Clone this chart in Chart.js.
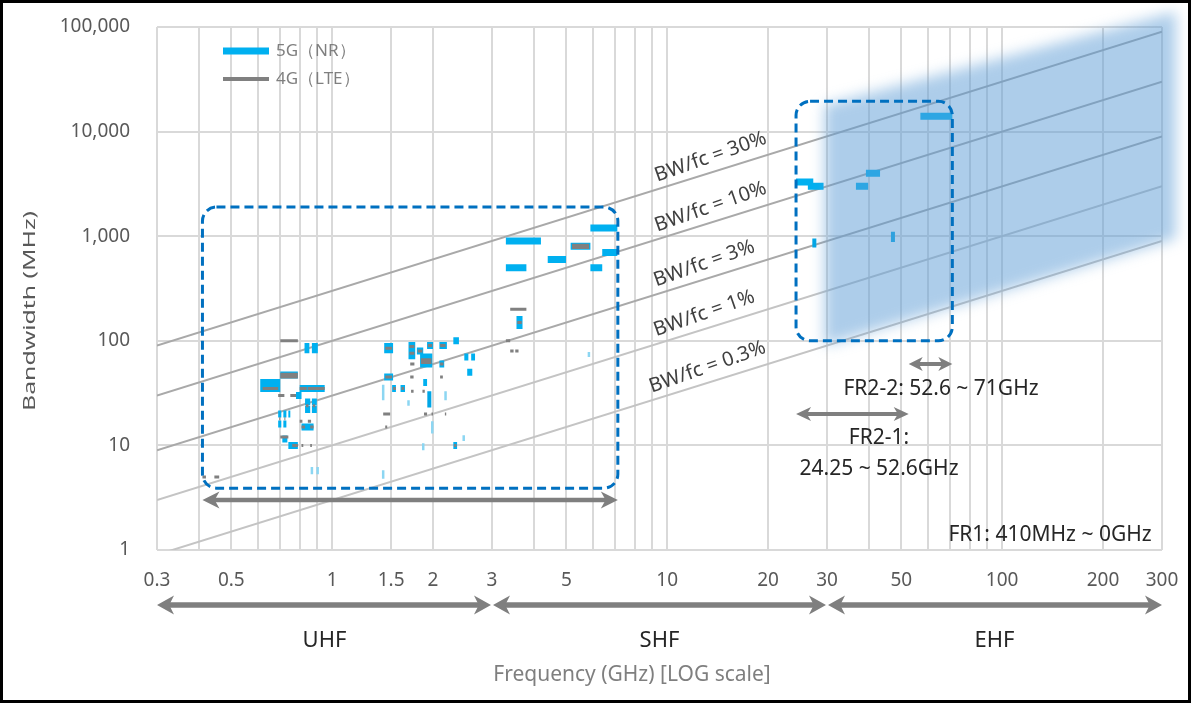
<!DOCTYPE html>
<html><head><meta charset="utf-8">
<script src="https://cdn.jsdelivr.net/npm/chart.js@4/dist/chart.umd.min.js"></script>
<style>html,body{margin:0;padding:0;background:#fff}canvas{display:block}</style>
</head><body>
<canvas id="c" width="1191" height="703"></canvas>
<script>
// ---- axis ticks ----
const xGridValues = [0.3,0.4,0.5,0.6,0.7,0.8,0.9,1,1.5,2,3,4,5,6,7,8,9,10,20,30,40,50,60,70,80,90,100,200,300];
const xTickLabels = ['0.3','0.5','1','1.5','2','3','5','10','20','30','50','100','200','300'];
const yTickValues = [1,10,100,1000,10000,100000];
const yTickLabels = ['1','10','100','1,000','10,000','100,000'];
const xTitle = 'Frequency (GHz) [LOG scale]';
const yTitle = 'Bandwidth (MHz)';

// ---- BW/fc reference lines ----
const bwRatios = [0.3, 0.1, 0.03, 0.01, 0.003];
const bwRatioLabels = ['BW/fc = 30%','BW/fc = 10%','BW/fc = 3%','BW/fc = 1%','BW/fc = 0.3%'];
const bwLabelFreq = [13.9, 13.9, 13.3, 13.3, 13.6];

// ---- 5G (NR) bands: [fLow GHz, fHigh GHz, bandwidth MHz] ----
const nrBands = [
 [0.827,0.855,88],[0.827,0.855,82],[0.87,0.906,88],[0.87,0.906,82],
 [0.70,0.79,47],
 [0.61,0.70,40],[0.61,0.70,35],
 [0.80,0.95,35],
 [0.78,0.81,30],
 [0.83,0.86,26],[0.83,0.86,22],[0.87,0.90,26],[0.87,0.90,22],
 [0.74,0.75,20],
 [0.69,0.705,20],[0.69,0.705,16],[0.715,0.73,20],[0.715,0.73,16],
 [0.81,0.88,15],
 [0.71,0.735,11.5],
 [0.74,0.79,10],
 [1.43,1.52,88],[1.43,1.52,82],
 [1.69,1.77,90],[1.69,1.77,80],[1.69,1.77,72],
 [1.79,1.87,80],
 [1.92,2.0,90],
 [2.09,2.2,90],
 [2.3,2.39,100],
 [1.83,1.99,70],[1.83,1.99,60],
 [2.09,2.16,60],
 [2.48,2.55,70],[2.6,2.67,70],
 [2.53,2.62,50],
 [1.43,1.52,45],
 [1.87,1.92,40],
 [1.51,1.55,35],[1.60,1.65,35],
 [2.3,2.36,10],
 [5.9,7.1,1200],[3.3,4.2,900],[5.15,5.9,800],[6.4,7.1,700],[4.4,4.99,600],
 [3.3,3.8,500],[5.9,6.4,500],[3.55,3.7,160],[3.55,3.7,140],
 [57,71,14000],[24.25,27.3,3300],[26.3,29.3,3000],[39.2,43.2,4000],[36.6,39.8,3000]
];
// ---- 4G (LTE) bands: [fLow GHz, fHigh GHz, bandwidth MHz] ----
const lteBands = [
 [0.70,0.79,100],
 [0.70,0.79,48],[0.70,0.79,45],
 [0.62,0.69,35],
 [0.80,0.84,35],[0.845,0.95,35],
 [0.69,0.72,30],[0.75,0.78,30],
 [0.835,0.85,24],[0.875,0.89,24],
 [0.695,0.70,18],[0.72,0.725,18],
 [0.80,0.815,17],[0.846,0.865,17],
 [0.81,0.83,15],[0.86,0.88,15],
 [0.70,0.74,12],
 [0.76,0.79,10],[0.81,0.82,10],[0.86,0.87,10],
 [0.41,0.42,5],[0.445,0.46,5],
 [1.44,1.51,85],
 [1.70,1.76,88],[1.70,1.76,76],
 [1.80,1.86,80],
 [1.93,1.99,90],
 [2.10,2.18,90],
 [1.84,1.98,66],[1.84,1.98,62],
 [2.10,2.15,60],
 [1.71,1.76,60],
 [1.44,1.51,45],
 [1.71,1.75,45],[2.10,2.14,45],
 [1.52,1.55,35],[1.61,1.64,35],
 [1.72,1.75,33],[1.86,1.89,33],
 [1.42,1.49,20],[1.88,1.92,20],[1.98,2.0,20],[2.17,2.19,20],
 [1.44,1.46,15],
 [2.31,2.35,10],
 [5.2,5.85,820],[5.2,5.85,780],
 [3.4,3.8,200],
 [3.57,3.68,150],
 [3.3,3.4,100],
 [3.4,3.48,80],[3.52,3.6,80]
];
// ---- 5G narrow marks: [f GHz, bwLow, bwHigh] ----
const nrNarrow = [[1.95,23,33],[47.2,880,1100],[27.5,780,950]];
const nrThin = [[0.87,5.3,6.2],[0.905,5.3,6.2],[1.42,27,38],[1.69,24,27],[2.18,27,33],[1.99,13,17],[2.47,11,12.5],[1.87,9,10.5],[1.42,4.8,5.8],[5.84,70,78]];

// ---- annotations (data coordinates) ----
const shadeTop = [[29.5,18000],[330,140000]];
const shadeBottom = [[29.5,90],[330,950]];
const frBoxes = [[0.41,7.125,3.9,1900],[24.25,71,100,19500]];
const frArrows = [[0.41,7.125,3],[24.25,52.6,20],[52.6,71,60]];
const frTexts = ['FR2-2: 52.6 ~ 71GHz','FR2-1:','24.25 ~ 52.6GHz','FR1: 410MHz ~ 0GHz'];
const bandNames = ['UHF','SHF','EHF'];
const bandEdges = [0.3,3,30,300];
const legendLabels = ['5G（NR）','4G（LTE）'];

const xLabelValues = xTickLabels.map(Number);
const FONT = '"Noto Sans", "DejaVu Sans", sans-serif';

function segs(list){ const out=[]; list.forEach(b=>{ out.push({x:b[0],y:b[2]},{x:b[1],y:b[2]},{x:b[1],y:null}); }); return out; }
function vsegs(list){ const out=[]; list.forEach(b=>{ out.push({x:b[0],y:b[1]},{x:b[0],y:b[2]},{x:b[0],y:null}); }); return out; }

const datasets = [];
bwRatios.forEach((r,i)=>datasets.push({label:bwRatioLabels[i], data:[{x:0.3,y:r*300},{x:300,y:r*300000}],
  borderColor: i<3 ? '#a9a9a9' : '#c4c4c4', borderWidth:2, pointRadius:0, order:10}));
datasets.push({label:legendLabels[0], data:segs(nrBands), borderColor:'#00b0f0', borderWidth:7, borderCapStyle:'butt', pointRadius:0, spanGaps:false, order:5});
datasets.push({label:'5G narrow', data:vsegs(nrNarrow), borderColor:'#00a6e6', borderWidth:4, borderCapStyle:'butt', pointRadius:0, spanGaps:false, order:4});
datasets.push({label:'5G thin', data:vsegs(nrThin), borderColor:'#8cd6f2', borderWidth:2.5, borderCapStyle:'butt', pointRadius:0, spanGaps:false, order:4});
datasets.push({label:legendLabels[1], data:segs(lteBands), borderColor:'#808080', borderWidth:3, borderCapStyle:'butt', pointRadius:0, spanGaps:false, order:2});

function arrow(ctx,x1,x2,y,lw,hl,hw,color){
  ctx.save(); ctx.strokeStyle=color; ctx.fillStyle=color; ctx.lineWidth=lw;
  ctx.beginPath(); ctx.moveTo(x1+hl*0.6,y); ctx.lineTo(x2-hl*0.6,y); ctx.stroke();
  ctx.beginPath(); ctx.moveTo(x1,y); ctx.lineTo(x1+hl,y-hw/2); ctx.lineTo(x1+hl*0.72,y); ctx.lineTo(x1+hl,y+hw/2); ctx.closePath(); ctx.fill();
  ctx.beginPath(); ctx.moveTo(x2,y); ctx.lineTo(x2-hl,y-hw/2); ctx.lineTo(x2-hl*0.72,y); ctx.lineTo(x2-hl,y+hw/2); ctx.closePath(); ctx.fill();
  ctx.restore();
}

const overlay = {
  id:'overlay',
  beforeDraw(chart){ const c=chart.ctx; c.save(); c.fillStyle='#fff'; c.fillRect(0,0,chart.width,chart.height); c.restore(); },
  afterDatasetsDraw(chart){
    const ctx=chart.ctx, xs=chart.scales.x, ys=chart.scales.y, ca=chart.chartArea;
    const X=v=>xs.getPixelForValue(v), Y=v=>ys.getPixelForValue(v);
    // shaded FR2 region
    ctx.save();
    ctx.filter='blur(7px)';
    ctx.fillStyle='rgba(91,155,213,0.5)';
    ctx.beginPath();
    ctx.moveTo(X(shadeTop[0][0]),Y(shadeTop[0][1]));
    ctx.lineTo(X(shadeTop[1][0]),Y(shadeTop[1][1]));
    ctx.lineTo(X(shadeBottom[1][0]),Y(shadeBottom[1][1]));
    ctx.lineTo(X(shadeBottom[0][0]),Y(shadeBottom[0][1]));
    ctx.closePath(); ctx.fill();
    ctx.restore();
    // dashed boxes
    ctx.save(); ctx.strokeStyle='#0070c0'; ctx.lineWidth=3; ctx.setLineDash([9,5]);
    frBoxes.forEach(b=>{ const x1=X(b[0]),x2=X(b[1]),y1=Y(b[3]),y2=Y(b[2]);
      ctx.beginPath(); ctx.roundRect(x1,y1,x2-x1,y2-y1,14); ctx.stroke(); });
    ctx.restore();
    // FR arrows
    arrow(ctx,X(frArrows[0][0]),X(frArrows[0][1]),Y(frArrows[0][2]),4.5,17,17,'#7f7f7f');
    arrow(ctx,X(frArrows[1][0]),X(frArrows[1][1]),Y(frArrows[1][2]),4,15,14,'#7f7f7f');
    arrow(ctx,X(frArrows[2][0]),X(frArrows[2][1]),Y(frArrows[2][2]),4,14,14,'#7f7f7f');
    // band arrows below the axis
    const by = ca.bottom+55;
    for(let i=0;i<3;i++){ arrow(ctx,X(bandEdges[i])+(i?1:0),X(bandEdges[i+1])-(i<2?1:0),by,5.5,17,19,'#7f7f7f'); }
    ctx.save(); ctx.fillStyle='#262626'; ctx.font='22px '+FONT; ctx.textAlign='center'; ctx.textBaseline='middle';
    for(let i=0;i<3;i++){ ctx.fillText(bandNames[i], X(Math.sqrt(bandEdges[i]*bandEdges[i+1])), ca.bottom+91); }
    ctx.restore();
    // axis titles
    ctx.save(); ctx.fillStyle='#7f7f7f'; ctx.font='21px '+FONT; ctx.textAlign='center'; ctx.textBaseline='middle';
    ctx.fillText(xTitle, 632, 675);
    ctx.restore();
    ctx.save(); ctx.fillStyle='#595959'; ctx.font='17px '+FONT; ctx.textAlign='center'; ctx.textBaseline='middle';
    ctx.translate(30, 311); ctx.rotate(-Math.PI/2);
    const tw = ctx.measureText(yTitle).width; ctx.scale(200/tw, 1);
    ctx.fillText(yTitle, 0, 0);
    ctx.restore();
    // BW/fc labels
    ctx.save(); ctx.fillStyle='#404040'; ctx.font='20px '+FONT; ctx.textAlign='center'; ctx.textBaseline='middle';
    bwRatios.forEach((r,i)=>{
      const f=bwLabelFreq[i]; const px=X(f), py=Y(r*1000*f);
      const a=Math.atan2(Y(r*1000*f*10)-py, X(f*10)-px);
      ctx.save(); ctx.translate(px,py); ctx.rotate(a); ctx.translate(0,-15); ctx.rotate(-0.035); ctx.fillText(bwRatioLabels[i],0,0); ctx.restore();
    });
    ctx.restore();
    // FR texts
    ctx.save(); ctx.fillStyle='#262626'; ctx.font='21px '+FONT; ctx.textAlign='center'; ctx.textBaseline='middle';
    ctx.fillText(frTexts[0], 941, 389);
    ctx.fillText(frTexts[1], 879, 438);
    ctx.fillText(frTexts[2], 879, 469);
    ctx.fillText(frTexts[3], 1050, 535);
    ctx.restore();
    // legend
    ctx.save();
    ctx.lineCap='butt';
    ctx.strokeStyle='#00b0f0'; ctx.lineWidth=7; ctx.beginPath(); ctx.moveTo(223,51); ctx.lineTo(269,51); ctx.stroke();
    ctx.strokeStyle='#808080'; ctx.lineWidth=4; ctx.beginPath(); ctx.moveTo(223,79); ctx.lineTo(269,79); ctx.stroke();
    ctx.fillStyle='#7f7f7f'; ctx.font='17px '+FONT; ctx.textAlign='left'; ctx.textBaseline='middle';
    ctx.fillText(legendLabels[0], 276, 51);
    ctx.fillText(legendLabels[1], 276, 79);
    ctx.restore();
  },
  afterDraw(chart){ const c=chart.ctx; c.save(); c.strokeStyle='#000'; c.lineWidth=3; c.strokeRect(1.5,1.5,chart.width-3,chart.height-3); c.restore(); }
};

const tickFont = {family:FONT, size:19};
new Chart(document.getElementById('c'), {
  type:'line',
  data:{datasets},
  options:{
    responsive:false, animation:false, events:[],
    layout:{padding:{top:27,right:29,left:0,bottom:0}},
    plugins:{legend:{display:false}, tooltip:{enabled:false}},
    scales:{
      x:{type:'logarithmic', min:0.3, max:300, position:'bottom',
        afterBuildTicks:s=>{ s.ticks = xGridValues.map(v=>({value:v})); },
        afterFit:s=>{ s.height=153; s.paddingLeft=0; s.paddingRight=0; s.paddingTop=0; s.paddingBottom=0; },
        ticks:{autoSkip:false, maxRotation:0, minRotation:0, padding:19, color:'#595959', font:tickFont,
          callback:v=>{ const i=xLabelValues.indexOf(v); return i>=0 ? xTickLabels[i] : ''; }},
        grid:{color:'#d9d9d9', lineWidth:2, drawTicks:false}, border:{display:false},
        title:{display:false}
      },
      y:{type:'logarithmic', min:1, max:100000,
        afterBuildTicks:s=>{ s.ticks = yTickValues.map(v=>({value:v})); },
        afterFit:s=>{ s.width=157; s.paddingLeft=0; s.paddingRight=0; s.paddingTop=0; s.paddingBottom=0; },
        ticks:{padding:27, color:'#595959', font:tickFont,
          callback:v=>{ const i=yTickValues.indexOf(v); return i>=0 ? yTickLabels[i] : ''; }},
        grid:{color:'#d9d9d9', lineWidth:2, drawTicks:false}, border:{display:false},
        title:{display:false}
      }
    }
  },
  plugins:[overlay]
});
</script>
</body></html>
